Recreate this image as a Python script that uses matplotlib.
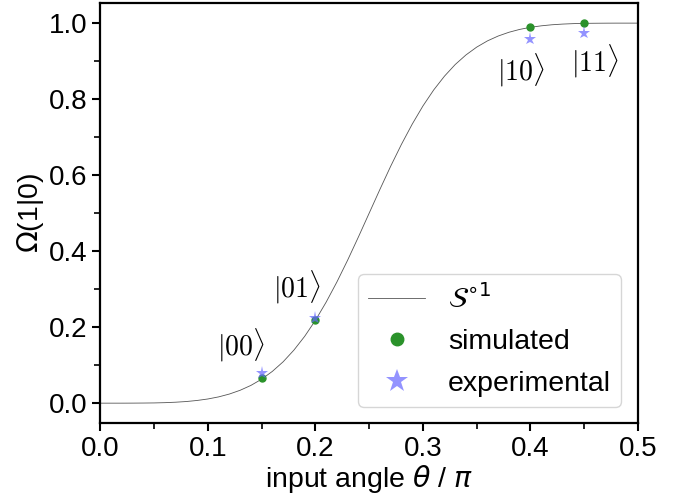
import matplotlib.pyplot as plt
from matplotlib.ticker import MultipleLocator

plt.rcParams['font.family'] = ['Liberation Sans', 'DejaVu Sans']
plt.rcParams['mathtext.fontset'] = 'dejavusans'

# theory curve S^1
theta_curve = [0.00, 0.01, 0.02, 0.03, 0.04, 0.05, 0.06, 0.07, 0.08, 0.09,
               0.10, 0.11, 0.12, 0.13, 0.14, 0.15, 0.16, 0.17, 0.18, 0.19,
               0.20, 0.21, 0.22, 0.23, 0.24, 0.25, 0.26, 0.27, 0.28, 0.29,
               0.30, 0.31, 0.32, 0.33, 0.34, 0.35, 0.36, 0.37, 0.38, 0.39,
               0.40, 0.41, 0.42, 0.43, 0.44, 0.45, 0.46, 0.47, 0.48, 0.49, 0.50]
omega_curve = [0.0, 0.0, 0.0, 0.0001, 0.0003, 0.0006, 0.0013, 0.0025, 0.0043, 0.0071,
               0.0110, 0.0165, 0.0240, 0.0339, 0.0467, 0.0631, 0.0837, 0.1089, 0.1396, 0.1758,
               0.2179, 0.2659, 0.3190, 0.3765, 0.4374, 0.5, 0.5626, 0.6235, 0.6810, 0.7341,
               0.7821, 0.8242, 0.8604, 0.8911, 0.9163, 0.9369, 0.9533, 0.9661, 0.9760, 0.9835,
               0.9890, 0.9929, 0.9957, 0.9975, 0.9987, 0.9994, 0.9997, 0.9999, 1.0, 1.0, 1.0]

theta_pts = [0.15, 0.20, 0.40, 0.45]
simulated = [0.065, 0.218, 0.990, 1.000]
experimental = [0.080, 0.225, 0.957, 0.975]
ket_labels = [r'$|00\rangle$', r'$|01\rangle$', r'$|10\rangle$', r'$|11\rangle$']
ket_pos = [(0.131, 0.153), (0.183, 0.305), (0.391, 0.876), (0.460, 0.900)]

fig, ax = plt.subplots(figsize=(6.92, 4.98), dpi=100)
fig.subplots_adjust(left=0.145, right=0.922, top=0.994, bottom=0.15)

ax.plot(theta_curve, omega_curve, color='#555555', linewidth=0.6,
        label=r'$\mathcal{S}^{\circ 1}$')
ax.plot(theta_pts, simulated, 'o', color='#2a922a', markersize=5, linestyle='none',
        label='simulated')
ax.plot(theta_pts, experimental, '*', color='#6666ff', alpha=0.7, markersize=9.5,
        markeredgewidth=0, linestyle='none', label='experimental')

for lab, (x, y) in zip(ket_labels, ket_pos):
    ax.text(x, y, lab, fontsize=20, ha='center', va='center', math_fontfamily='cm')

ax.set_xlim(0, 0.5)
ax.set_ylim(-0.053, 1.053)
ax.xaxis.set_major_locator(MultipleLocator(0.1))
ax.xaxis.set_minor_locator(MultipleLocator(0.05))
ax.yaxis.set_major_locator(MultipleLocator(0.2))
ax.yaxis.set_minor_locator(MultipleLocator(0.1))
ax.tick_params(which='major', direction='out', length=6, width=1.5, labelsize=20, pad=3)
ax.tick_params(which='minor', direction='out', length=4, width=1.2)
for s in ax.spines.values():
    s.set_linewidth(1.6)

ax.set_xlabel(r'input angle $\theta$ / $\pi$', fontsize=20.5, labelpad=1)
ax.set_ylabel(r'$\Omega$(1|0)', fontsize=20.5, labelpad=2)

leg = ax.legend(loc='lower right', fontsize=20.5, markerscale=1.8, frameon=True,
                borderpad=0.35, handlelength=2.0, labelspacing=0.55, handletextpad=0.8,
                bbox_to_anchor=(0.995, 0.005))

fig.savefig('out.png', dpi=100)
